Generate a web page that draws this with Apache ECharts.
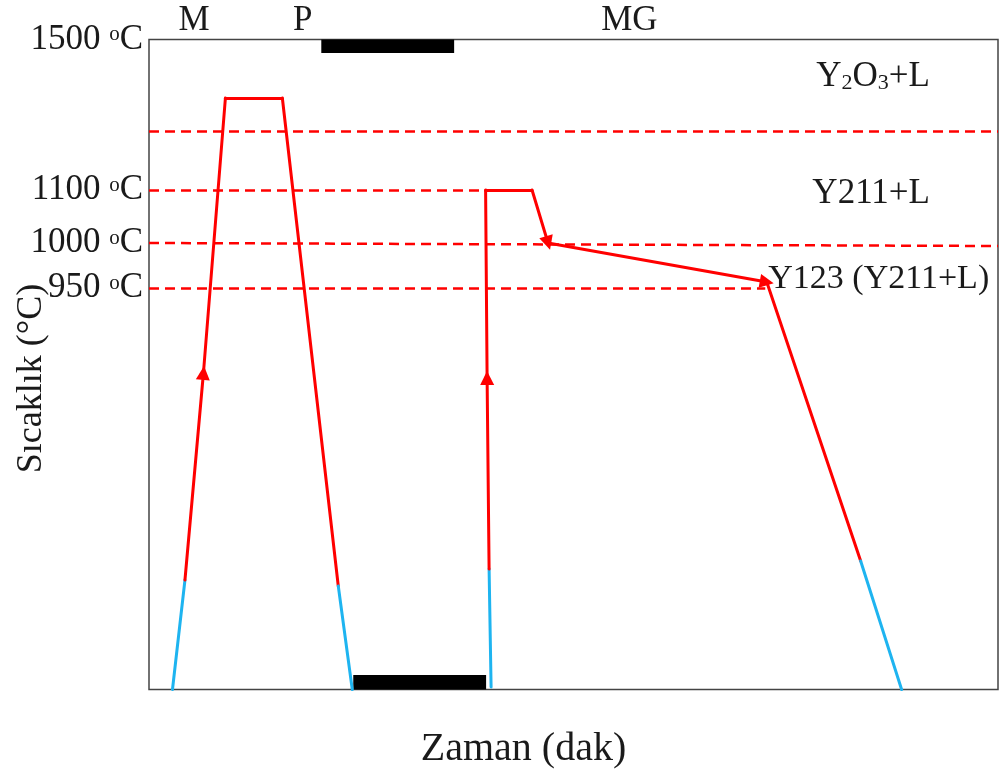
<!DOCTYPE html>
<html>
<head>
<meta charset="utf-8">
<script src="https://cdn.jsdelivr.net/npm/echarts@6/dist/echarts.min.js"></script>
<style>html,body{margin:0;padding:0;background:#fff}#c{width:1000px;height:771px}</style>
</head>
<body>
<div id="c"></div>
<script>
// ---- Data (schematic units: time 0..850, level 0..650) ----
const yTickLevels = [650, 499.5, 446.5, 401.5];
const yTickLabels = ['1500', '1100', '1000', '950'];
const phaseLabels = ['M', 'P', 'MG'];
const phaseX = [45, 154, 481];

// Cycle 1 (melt-process) path
const c1Time  = [23.5, 36, 54.5, 76.5, 133.5, 189.5, 203.5];
const c1Level = [0, 109.5, 316.5, 591.5, 591.5, 103.5, 0];
const c1Kind  = ['blue', 'red', 'red', 'red', 'red', 'blue'];
const c1Arrow = [false, true, false, false, false, false];

// Cycle 2 (melt growth) path
const c2Time  = [342.5, 340.5, 338.5, 337, 383.5, 399.5, 618.5, 712.5, 753.5];
const c2Level = [2.5, 120.5, 311.5, 499.5, 499.5, 446.5, 407.5, 128.5, 0];
const c2Kind  = ['blue', 'red', 'red', 'red', 'red', 'red', 'red', 'blue'];
const c2Arrow = [false, true, false, false, true, true, false, false];

// Dashed phase-boundary lines
const dashX0 = [0, 0, 0, 0];
const dashX1 = [850, 337, 850, 617];
const dashY0 = [558.5, 499.5, 446.5, 401.5];
const dashY1 = [558.5, 499.5, 443.5, 401.5];

// Black bars (idle periods)
const barX0 = [172.5, 204.5];
const barX1 = [305.5, 337.5];
const barY0 = [636.5, 0];
const barY1 = [650, 14.5];

// Region annotations
const regionText = ['Y{s|2}O{s|3}+L', 'Y211+L', 'Y123 (Y211+L)'];
const regionX = [725, 723, 620];
const regionY = [613, 496, 410];

// ---- Build ----
const RED = '#ff0000', BLUE = '#1eb4f0';
const FONT = 'Liberation Serif';
const FS = 35;
const TXT = '#1a1a1a';

function segs(t, l, kind, arrow, wantArrow) {
  const out = [];
  for (let i = 0; i < t.length - 1; i++) {
    if (arrow[i] !== wantArrow) continue;
    out.push({
      coords: [[t[i], l[i]], [t[i + 1], l[i + 1]]],
      lineStyle: { color: kind[i] === 'red' ? RED : BLUE }
    });
  }
  return out;
}
const plain = segs(c1Time, c1Level, c1Kind, c1Arrow, false).concat(segs(c2Time, c2Level, c2Kind, c2Arrow, false));
const arrows = segs(c1Time, c1Level, c1Kind, c1Arrow, true).concat(segs(c2Time, c2Level, c2Kind, c2Arrow, true));
const dashes = dashX0.map((x, i) => ({ coords: [[x, dashY0[i]], [dashX1[i], dashY1[i]]] }));
const bars = barX0.map((x, i) => [x, barY0[i], barX1[i], barY1[i]]);
const regions = regionText.map((s, i) => ({
  value: [regionX[i], regionY[i]],
  label: { align: i === 2 ? 'left' : 'center', fontSize: i === 2 ? 34 : FS }
}));

function nearestIdx(arr, v) {
  let b = 0;
  for (let i = 1; i < arr.length; i++) if (Math.abs(arr[i] - v) < Math.abs(arr[b] - v)) b = i;
  return b;
}

const chart = echarts.init(document.getElementById('c'), null, { renderer: 'canvas' });
chart.setOption({
  animation: false,
  backgroundColor: '#fff',
  textStyle: { fontFamily: FONT },
  grid: {
    left: 149, top: 39.5, width: 849, height: 650, containLabel: false, outerBoundsMode: 'none',
    show: true, borderColor: '#444', borderWidth: 1.5, backgroundColor: '#fff'
  },
  xAxis: [
    {
      type: 'value', min: 0, max: 850, position: 'bottom',
      name: 'Zaman (dak)', nameLocation: 'middle', nameGap: 40, nameMoveOverlap: false,
      nameTextStyle: { fontFamily: FONT, fontSize: 40, color: TXT, padding: [0, 100, 0, 0] },
      axisLine: { show: false }, axisTick: { show: false }, axisLabel: { show: false }, splitLine: { show: false }
    },
    {
      type: 'value', min: 0, max: 850, position: 'top',
      axisLine: { show: false }, axisTick: { show: false }, splitLine: { show: false },
      axisLabel: {
        show: true, customValues: phaseX, margin: 1,
        fontFamily: FONT, fontSize: FS, color: TXT,
        formatter: v => phaseLabels[nearestIdx(phaseX, v)]
      }
    }
  ],
  yAxis: {
    type: 'value', min: 0, max: 650,
    name: 'Sıcaklık (°C)', nameLocation: 'middle', nameGap: 99, nameRotate: 90, nameMoveOverlap: false,
    nameTextStyle: { fontFamily: FONT, fontSize: 36, color: TXT, padding: [0, 28, 0, 0] },
    axisLine: { show: false }, axisTick: { show: false }, splitLine: { show: false },
    axisLabel: {
      show: true, customValues: yTickLevels, margin: 6,
      formatter: v => '{n|' + yTickLabels[nearestIdx(yTickLevels, v)] + ' }{o|o}{n|C}',
      rich: {
        n: { fontFamily: FONT, fontSize: FS, color: TXT },
        o: { fontFamily: FONT, fontSize: 21, color: TXT, verticalAlign: 'top', padding: [2, 0, 0, 0] }
      }
    }
  },
  series: [
    {
      type: 'lines', coordinateSystem: 'cartesian2d', xAxisIndex: 0, yAxisIndex: 0, z: 2,
      lineStyle: { color: RED, width: 2.5, type: [10, 6], opacity: 1 },
      symbol: ['none', 'none'],
      data: dashes
    },
    {
      type: 'custom', xAxisIndex: 0, yAxisIndex: 0, z: 3,
      renderItem: (params, api) => {
        const p0 = api.coord([api.value(0), api.value(1)]);
        const p1 = api.coord([api.value(2), api.value(3)]);
        return {
          type: 'rect',
          shape: { x: p0[0], y: p1[1], width: p1[0] - p0[0], height: p0[1] - p1[1] },
          style: { fill: '#000' }
        };
      },
      encode: { x: [0, 2], y: [1, 3] },
      data: bars
    },
    {
      type: 'lines', coordinateSystem: 'cartesian2d', xAxisIndex: 0, yAxisIndex: 0, z: 4,
      lineStyle: { width: 3, opacity: 1, cap: 'round', join: 'round' },
      symbol: ['none', 'none'],
      data: plain
    },
    {
      type: 'lines', coordinateSystem: 'cartesian2d', xAxisIndex: 0, yAxisIndex: 0, z: 4,
      lineStyle: { width: 3, opacity: 1, cap: 'round' },
      symbol: ['none', 'triangle'], symbolSize: [12, 14],
      data: arrows
    },
    {
      type: 'scatter', xAxisIndex: 0, yAxisIndex: 0, symbolSize: 0, z: 5,
      itemStyle: { opacity: 1 },
      label: {
        show: true, position: 'inside', color: TXT, fontFamily: FONT, fontSize: FS, opacity: 1,
        formatter: p => regionText[p.dataIndex],
        rich: { s: { fontFamily: FONT, fontSize: 22, color: TXT, verticalAlign: 'bottom', padding: [10, 0, 0, 0] } }
      },
      data: regions
    }
  ]
});
</script>
</body>
</html>
